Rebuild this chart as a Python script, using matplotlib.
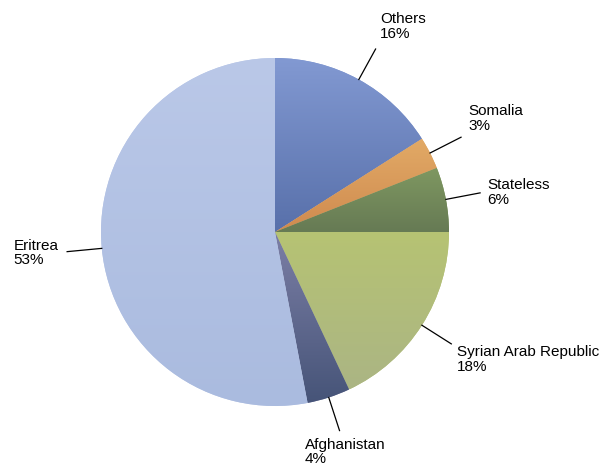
import numpy as np
import matplotlib
matplotlib.use("Agg")
import matplotlib.pyplot as plt
from matplotlib.colors import LinearSegmentedColormap

labels = ["Others", "Somalia", "Stateless", "Syrian Arab Republic", "Afghanistan", "Eritrea"]
shares = [16, 3, 6, 18, 4, 53]

# top / bottom colours of each slice's gradient
top_colors = ["#8299d2", "#e2aa66", "#7f9861", "#b6c373", "#7c7fa6", "#bac8e8"]
bottom_colors = ["#5870aa", "#cf8a4f", "#667a54", "#abb584", "#465478", "#aabbdf"]

# text offsets (points) from the leader end, and alignment
offsets = [(3, 6), (5, 3), (5, 0), (4, -1), (-25, -5), (-6, -1)]
aligns = [("left", "bottom"), ("left", "bottom"), ("left", "center"),
          ("left", "top"), ("left", "top"), ("right", "center")]

plt.rcParams["font.family"] = ["Liberation Sans", "DejaVu Sans"]

fig = plt.figure(figsize=(6.15, 4.71), dpi=100)
ax = fig.add_axes([0, 0, 1, 1])

wedges, _ = ax.pie(shares, startangle=90, counterclock=False, radius=1,
                   colors=top_colors, wedgeprops=dict(linewidth=0))

grad = np.linspace(0, 1, 256).reshape(-1, 1)
for w, c0, c1 in zip(wedges, top_colors, bottom_colors):
    cmap = LinearSegmentedColormap.from_list("g", [c0, c1])
    bb = w.get_path().get_extents()
    im = ax.imshow(grad, cmap=cmap, extent=(bb.x0, bb.x1, bb.y0, bb.y1),
                   origin="upper", aspect="auto", zorder=w.get_zorder() + 0.1,
                   interpolation="bilinear")
    im.set_clip_path(w)

for w, lab, val, off, (ha, va) in zip(wedges, labels, shares, offsets, aligns):
    mid = np.deg2rad((w.theta1 + w.theta2) / 2)
    x0, y0 = np.cos(mid), np.sin(mid)
    x1, y1 = 1.2 * x0, 1.2 * y0
    ax.plot([x0, x1], [y0, y1], color="black", lw=0.9, zorder=5)
    ax.annotate(f"{lab}\n{val}%", (x1, y1), xytext=off, textcoords="offset points",
                ha=ha, va=va, ma="left", fontsize=11, color="#000000",
                linespacing=1.08)

scale = 174.0
cx, cy = 275.0, 232.0
ax.set_xlim(-cx / scale, (615 - cx) / scale)
ax.set_ylim(-(471 - cy) / scale, cy / scale)
ax.set_aspect("equal")
ax.axis("off")

fig.savefig("out.png", dpi=100)
